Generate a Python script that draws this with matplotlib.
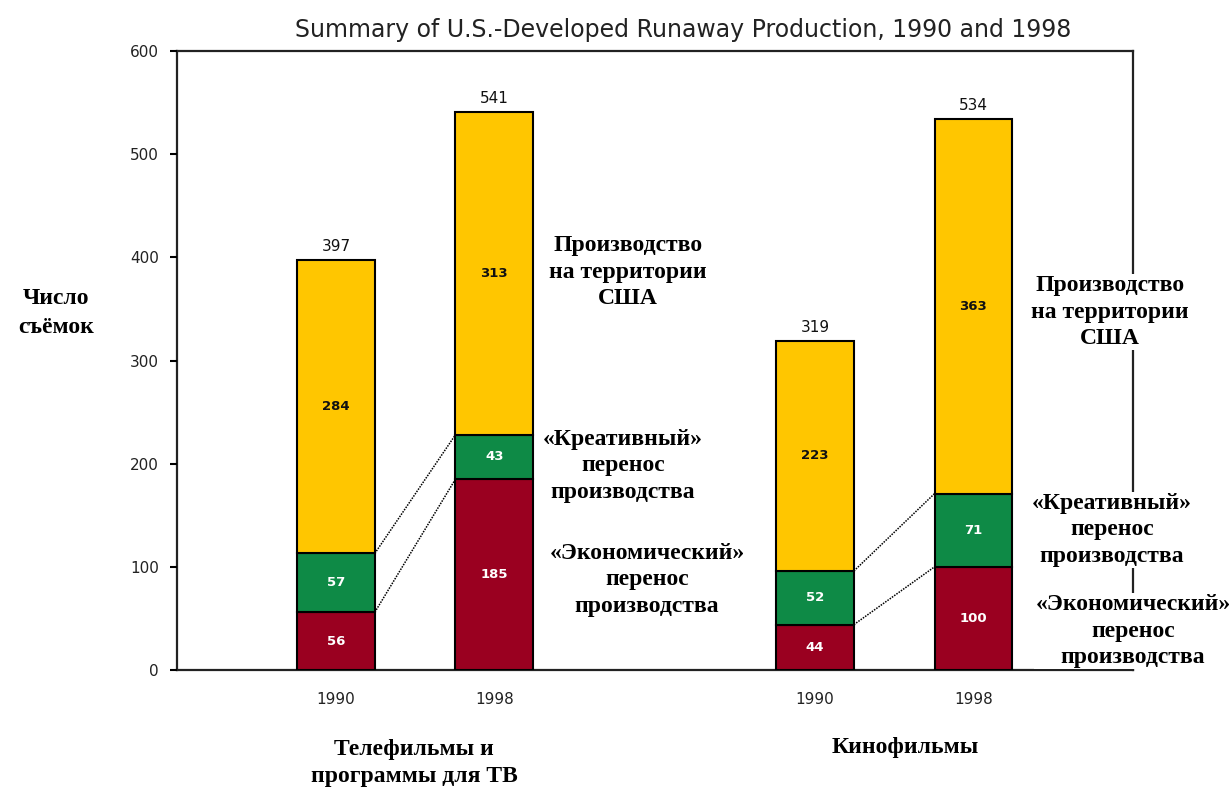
import matplotlib
matplotlib.use("Agg")
import matplotlib.pyplot as plt
import numpy as np

# ---- data ----
groups = ["Телефильмы и\nпрограммы для ТВ", "Кинофильмы"]
years = ["1990", "1998"]
# order of bars: TV 1990, TV 1998, Film 1990, Film 1998
economic = [56, 185, 44, 100]
creative = [57, 43, 52, 71]
domestic = [284, 313, 223, 363]
totals = [397, 541, 319, 534]
title = "Summary of U.S.-Developed Runaway Production, 1990 and 1998"
ylabel = "Число\nсъёмок"
lbl_domestic = "Производство\nна территории\nСША"
lbl_creative = "«Креативный»\nперенос\nпроизводства"
lbl_economic = "«Экономический»\nперенос\nпроизводства"

# ---- style ----
C_Y = "#FFC600"
C_G = "#0E8A46"
C_R = "#9A0020"
W, H = 1232, 787
fig = plt.figure(figsize=(W / 100, H / 100), dpi=100)
ax = fig.add_axes([177 / W, 1 - 670 / H, (1133 - 177) / W, (670 - 51) / H])

pos = np.array([0.0, 1.0, 3.03, 4.03])
bw = 0.49
eco = np.array(economic)
cre = np.array(creative)
dom = np.array(domestic)

ax.bar(pos, eco, bw, color=C_R, edgecolor="black", linewidth=1.5, zorder=3)
ax.bar(pos, cre, bw, bottom=eco, color=C_G, edgecolor="black", linewidth=1.5, zorder=3)
ax.bar(pos, dom, bw, bottom=eco + cre, color=C_Y, edgecolor="black", linewidth=1.5, zorder=3)

# segment labels
lab = dict(ha="center", va="center", fontsize=9.5, fontweight="bold", zorder=4)
for i, p in enumerate(pos):
    ax.text(p, eco[i] / 2, str(eco[i]), color="white", **lab)
    ax.text(p, eco[i] + cre[i] / 2, str(cre[i]), color="white", **lab)
    ax.text(p, eco[i] + cre[i] + dom[i] / 2, str(dom[i]), color="#111111", **lab)
    ax.text(p, totals[i] + 6, str(totals[i]), ha="center", va="bottom", color="#111111",
            fontsize=11, zorder=4)

# dotted connectors between 1990 and 1998 bars
for a, b in [(0, 1), (2, 3)]:
    for lvl_a, lvl_b in [(eco[a], eco[b]), (eco[a] + cre[a], eco[b] + cre[b])]:
        ax.plot([pos[a] + bw / 2, pos[b] - bw / 2], [lvl_a, lvl_b], color="black",
                linestyle=(0, (1, 0.8)), linewidth=1.1, zorder=2)

ax.set_xlim(-1.006, 5.04)
ax.set_ylim(0, 600)
ax.set_yticks([0, 100, 200, 300, 400, 500, 600])
ax.set_xticks(pos)
ax.set_xticklabels(years * 2)
ax.tick_params(axis="y", length=5, width=1.5, pad=8, labelsize=11, labelcolor="#222222")
ax.tick_params(axis="x", length=0, pad=16, labelsize=11, labelcolor="#222222")
for s in ["left", "bottom", "top", "right"]:
    ax.spines[s].set_linewidth(1.6)
    ax.spines[s].set_color("#222222")
    ax.spines[s].set_zorder(1)

fig.text(683 / W, 1 - 30 / H, title, ha="center", va="center", fontsize=17, color="#222222")

serif = dict(family="Liberation Serif", fontweight="bold", fontsize=17, ha="center",
             va="center", color="black", linespacing=1.33)
box = dict(facecolor="white", edgecolor="none", pad=1)

def ft(x, y, s, **kw):
    d = dict(serif)
    d.update(kw)
    fig.text(x / W, 1 - y / H, s, **d)

ft(56, 313, ylabel, linespacing=1.5)
ft(628, 272, lbl_domestic)
ft(623, 466, lbl_creative)
ft(647, 580, lbl_economic)
ft(1110, 312, lbl_domestic, bbox=box)
ft(1112, 530, lbl_creative, bbox=box)
ft(1133, 631, lbl_economic, bbox=box)
ft(414, 763, groups[0], linespacing=1.4)
ft(905, 748, groups[1])

fig.savefig("out.png", dpi=100)
